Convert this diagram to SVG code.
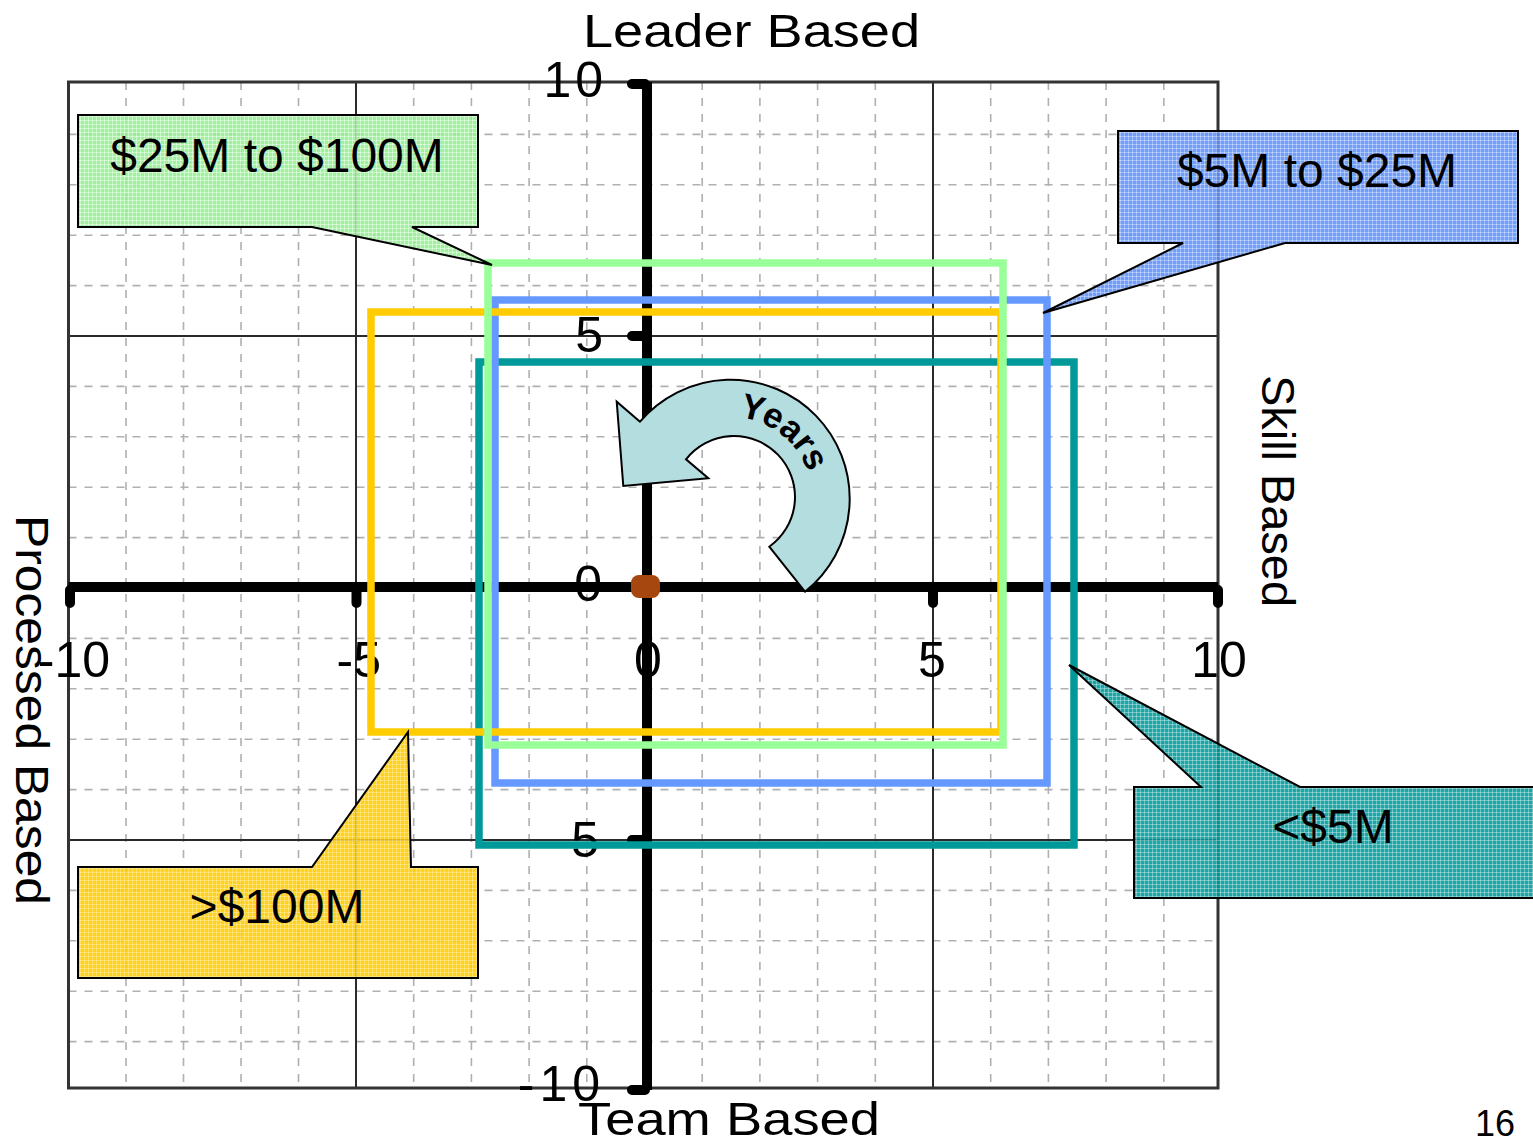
<svg xmlns="http://www.w3.org/2000/svg" width="1533" height="1144" viewBox="0 0 1533 1144">
  <style>
    .t { font-family: "Liberation Sans", Arial, sans-serif; fill: #000; }
    .ax { font-size: 46px; }
    .tick { font-size: 50px; }
    .co { font-size: 48px; text-anchor: middle; }
    .minor { stroke: #b0b0b0; stroke-width: 1.6; stroke-dasharray: 8 8; fill: none; }
    .major { stroke: #2a2a2a; stroke-width: 2; fill: none; }
    .axis { stroke: #000; stroke-width: 10; fill: none; }
    .tk { stroke: #000; stroke-width: 10; stroke-linecap: round; fill: none; }
    .box { fill: none; stroke-width: 7.5; }
    .callout { stroke: #000; stroke-width: 2; fill-opacity: 0.88; stroke-linejoin: miter; }
  </style>
  <defs>
    <pattern id="pG" width="4" height="4" patternUnits="userSpaceOnUse">
      <rect width="4" height="4" fill="#93EE93"/>
      <path d="M0 0.5H4M0.5 0V4" stroke="#ffffff" stroke-opacity="0.45" stroke-width="1"/>
    </pattern>
    <pattern id="pB" width="4" height="4" patternUnits="userSpaceOnUse">
      <rect width="4" height="4" fill="#5E90F8"/>
      <path d="M0 0.5H4M0.5 0V4" stroke="#ffffff" stroke-opacity="0.35" stroke-width="1"/>
    </pattern>
    <pattern id="pT" width="4" height="4" patternUnits="userSpaceOnUse">
      <rect width="4" height="4" fill="#009999"/>
      <path d="M0 0.5H4M0.5 0V4" stroke="#ffffff" stroke-opacity="0.35" stroke-width="1"/>
    </pattern>
    <pattern id="pY" width="4" height="4" patternUnits="userSpaceOnUse">
      <rect width="4" height="4" fill="#FFCC00"/>
      <path d="M0 0.5H4M0.5 0V4" stroke="#ffffff" stroke-opacity="0.3" stroke-width="1"/>
    </pattern>
    <path id="yearsPath" d="M712,418.6 A83 83 0 0 1 812.7,499"/>
  </defs>

  <rect width="1533" height="1144" fill="#ffffff"/>

  <g id="grid">
    <path class="minor" d="M126,82V1088M183.5,82V1088M241,82V1088M298.5,82V1088M413.7,82V1088M471.4,82V1088M529.1,82V1088M586.8,82V1088M702.2,82V1088M759.9,82V1088M817.6,82V1088M875.3,82V1088M990.7,82V1088M1048.4,82V1088M1106.1,82V1088M1163.8,82V1088"/>
    <path class="minor" d="M68.5,134.4H1218M68.5,184.8H1218M68.5,235.2H1218M68.5,285.6H1218M68.5,386.4H1218M68.5,436.8H1218M68.5,487.2H1218M68.5,537.6H1218M68.5,638.4H1218M68.5,688.8H1218M68.5,739.2H1218M68.5,789.6H1218M68.5,890.4H1218M68.5,940.8H1218M68.5,991.2H1218M68.5,1041.6H1218"/>
    <path class="major" d="M356,82V1088M933,82V1088M68.5,336H1218M68.5,840H1218"/>
    <rect x="68.5" y="82" width="1149.5" height="1006" fill="none" stroke="#333" stroke-width="3"/>
  </g>

  <g id="axes">
    <path class="axis" d="M68.5,587H1218M647,82V1090"/>
    <path class="tk" d="M70,590V603M356.5,590V603M933,590V603M1218,590V603M632,84H645M632,336H645M632,840H645M632,1090H645"/>
  </g>

  <g id="tick-labels" class="t tick">
    <text x="110" y="677" text-anchor="end">-10</text>
    <text x="381" y="677" text-anchor="end">-5</text>
    <text x="648" y="677" text-anchor="middle">0</text>
    <text x="932" y="677" text-anchor="middle">5</text>
    <text x="1219" y="677" text-anchor="middle">10</text>
    <text x="607" y="97" text-anchor="end" letter-spacing="4">10</text>
    <text x="603" y="352" text-anchor="end">5</text>
    <text x="602" y="601" text-anchor="end">0</text>
    <text x="607" y="857" text-anchor="end" letter-spacing="8">-5</text>
    <text x="605" y="1101" text-anchor="end" letter-spacing="5">-10</text>
  </g>

  <g id="axis-labels" class="t ax">
    <text x="583" y="47" textLength="337" lengthAdjust="spacingAndGlyphs">Leader Based</text>
    <text x="578" y="1135" textLength="302" lengthAdjust="spacingAndGlyphs">Team Based</text>
    <text transform="translate(1262,375) rotate(90)" textLength="232" lengthAdjust="spacingAndGlyphs">Skill Based</text>
    <text transform="translate(16,515) rotate(90)" textLength="390" lengthAdjust="spacingAndGlyphs">Processed Based</text>
  </g>

  <g id="range-teal"><rect class="box" x="479" y="362" width="595" height="483" stroke="#009999"/></g>
  <g id="range-blue"><rect class="box" x="495" y="300" width="552" height="483" stroke="#6699FF"/></g>
  <g id="range-yellow"><rect class="box" x="371" y="312" width="630" height="420" stroke="#FFCC00"/></g>
  <g id="range-green"><rect class="box" x="488" y="263" width="515" height="482" stroke="#99FF99"/></g>

  <g id="callout-green">
    <path class="callout" fill="url(#pG)" d="M78,115H478V227H412L492,265L312,227H78Z"/>
    <text class="t co" x="277" y="172">$25M to $100M</text>
  </g>
  <g id="callout-blue">
    <path class="callout" fill="url(#pB)" d="M1118,131H1518V243H1285L1043,313L1183,243H1118Z"/>
    <text class="t co" x="1317" y="187">$5M to $25M</text>
  </g>
  <g id="callout-teal">
    <path class="callout" fill="url(#pT)" d="M1134,787H1201L1069,665L1300,787H1545V898H1134Z"/>
    <text class="t co" x="1333" y="843">&lt;$5M</text>
  </g>
  <g id="callout-yellow">
    <path class="callout" fill="url(#pY)" d="M78,867H312L408,732L411,867H478V978H78Z"/>
    <text class="t co" x="277" y="923">&gt;$100M</text>
  </g>

  <g id="years-arrow">
    <path d="M640,421.7L616.7,401.7L623.3,486L708.3,478.3L686,459.3A61 61 0 1 1 769.3,546.7L805,591.7A119 119 0 1 0 640,421.7Z" fill="#B4DDE0" stroke="#000" stroke-width="2" stroke-linejoin="miter"/>
    <text class="t" font-size="35" font-weight="bold" text-anchor="middle"><textPath href="#yearsPath" startOffset="50%">Years</textPath></text>
  </g>

  <g id="origin">
    <rect x="631" y="575" width="29" height="23" rx="8" fill="#A5470F"/>
  </g>

  <g id="page-number">
    <text class="t" x="1495" y="1136" font-size="36" text-anchor="middle">16</text>
  </g>
</svg>
